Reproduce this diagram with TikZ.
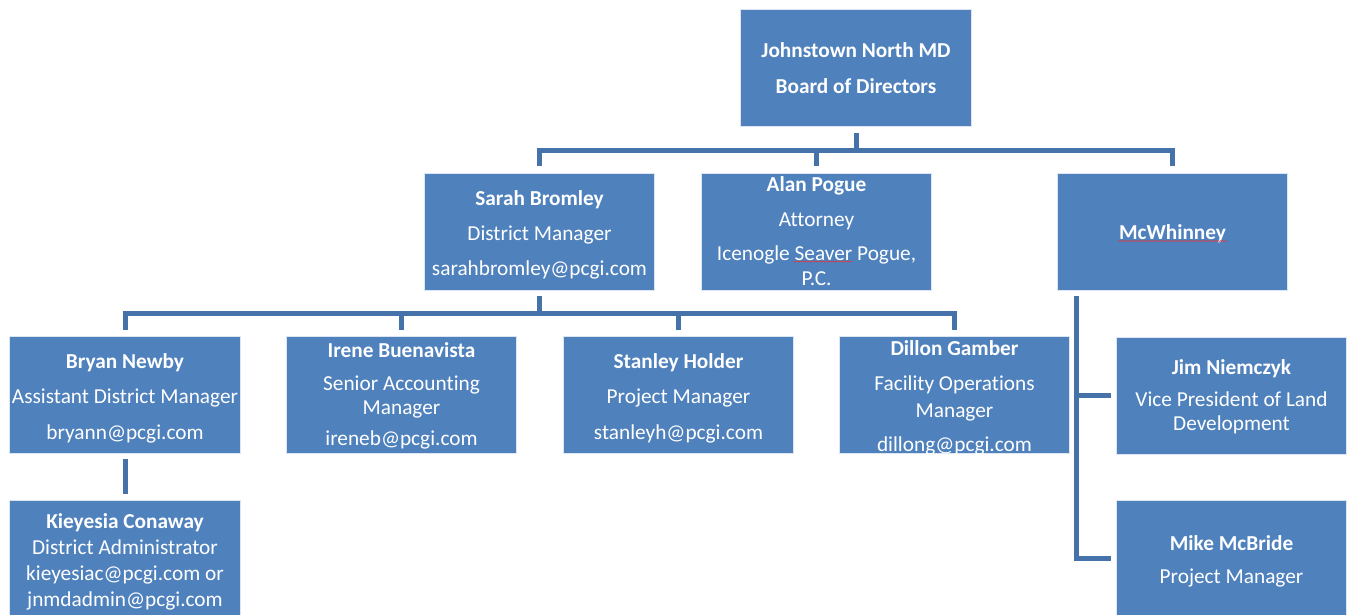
\documentclass[tikz,border=0pt]{standalone}
\usepackage{fontspec}
\setmainfont{Carlito}[Ligatures=NoCommon]
\usetikzlibrary{decorations.pathmorphing}
\definecolor{boxfill}{HTML}{4F81BD}
\definecolor{boxedge}{HTML}{DCE6F2}
\definecolor{conncol}{HTML}{4672AA}
\definecolor{spell}{HTML}{E0393E}
\newcommand\fsz{\fontsize{21.3}{26}\selectfont}
\begin{document}
\begin{tikzpicture}[x=1pt,y=-1pt,
  box/.style={draw=boxedge, line width=0.8pt, fill=boxfill, inner sep=0pt,
              minimum width=230.5pt, minimum height=117pt},
  conn/.style={draw=conncol, line width=5pt, line join=miter},
  txt/.style={text=white, font=\fsz, anchor=base, inner sep=0pt},
  nm/.style={text=white, font=\fsz\bfseries, anchor=base, inner sep=0pt},
  squiggle/.style={draw=spell, line width=0.6pt, decorate,
              decoration={snake, amplitude=0.45pt, segment length=3pt}}]
\useasboundingbox (0,0) rectangle (1351,614);
\fill[white] (0,0) rectangle (1351,614);

% boxes
\node[box] (board)   at (856,67.5)    {};
\node[box] (sarah)   at (539.5,231.5) {};
\node[box] (alan)    at (816.5,231.5) {};
\node[box] (mcw)     at (1172.5,231.5){};
\node[box] (bryan)   at (125,394.5)   {};
\node[box] (irene)   at (401.5,394.5) {};
\node[box] (stanley) at (678.5,394.5) {};
\node[box] (dillon)  at (954.5,394.5) {};
\node[box] (kiey)    at (125,558.5)   {};
\node[box] (jim)     at (1231.5,395.5){};
\node[box] (mike)    at (1231.5,558.5){};

% texts
\node[nm]  (board1) at (856,57) {Johnstown North MD};
\node[nm]  (board2) at (856,93) {Board of Directors};

\node[nm]  (sarah1) at (539.5,205) {Sarah Bromley};
\node[txt] (sarah2) at (539.5,240) {District Manager};
\node[txt] (sarah3) at (539.5,275) {sarahbromley@pcgi.com};

\node[nm]  (alan1) at (816.5,191) {Alan Pogue};
\node[txt] (alan2) at (816.5,226) {Attorney};
\node[txt] (alan3) at (816.5,260) {Icenogle Seaver Pogue,};
\node[txt] (alan4) at (816.5,285) {P.C.};

\node[nm]  (mcw1) at (1172.5,239) {McWhinney};

\node[nm]  (bryan1) at (125,368) {Bryan Newby};
\node[txt] (bryan2) at (125,403) {Assistant District Manager};
\node[txt] (bryan3) at (125,439) {bryann@pcgi.com};

\node[nm]  (irene1) at (401.5,357) {Irene Buenavista};
\node[txt] (irene2) at (401.5,390) {Senior Accounting};
\node[txt] (irene3) at (401.5,414) {Manager};
\node[txt] (irene4) at (401.5,445) {ireneb@pcgi.com};

\node[nm]  (stanley1) at (678.5,368) {Stanley Holder};
\node[txt] (stanley2) at (678.5,403) {Project Manager};
\node[txt] (stanley3) at (678.5,439) {stanleyh@pcgi.com};

\node[nm]  (dillon1) at (954.5,355) {Dillon Gamber};
\node[txt] (dillon2) at (954.5,390) {Facility Operations};
\node[txt] (dillon3) at (954.5,417) {Manager};
\node[txt] (dillon4) at (954.5,451) {dillong@pcgi.com};

\node[nm]  (kiey1) at (125,528) {Kieyesia Conaway};
\node[txt] (kiey2) at (125,554) {District Administrator};
\node[txt] (kiey3) at (125,580) {kieyesiac@pcgi.com or};
\node[txt] (kiey4) at (125,606) {jnmdadmin@pcgi.com};

\node[nm]  (jim1) at (1231.5,374) {Jim Niemczyk};
\node[txt] (jim2) at (1231.5,406) {Vice President of Land};
\node[txt] (jim3) at (1231.5,430) {Development};

\node[nm]  (mike1) at (1231.5,550) {Mike McBride};
\node[txt] (mike2) at (1231.5,583) {Project Manager};

% spell-check marks
\draw[squiggle] (1118,241) -- (1227,241);
\draw[squiggle] (793,261.5) -- (852,261.5);

% connectors
\coordinate (bus1) at (0,150);
\coordinate (bus2) at (0,313);
\draw[conn] ([yshift=-7pt]board.south) -- (board.south |- bus1);
\draw[conn] ([yshift=7pt]sarah.north) -- (sarah.north |- bus1)
            -- (mcw.north |- bus1) -- ([yshift=7pt]mcw.north);
\draw[conn] (alan.north |- bus1) -- ([yshift=7pt]alan.north);

\draw[conn] ([yshift=-6pt]sarah.south) -- (sarah.south |- bus2);
\draw[conn] ([yshift=6pt]bryan.north) -- (bryan.north |- bus2)
            -- (dillon.north |- bus2) -- ([yshift=6pt]dillon.north);
\draw[conn] (irene.north |- bus2) -- ([yshift=6pt]irene.north);
\draw[conn] (stanley.north |- bus2) -- ([yshift=6pt]stanley.north);

\draw[conn] ([yshift=-6pt]bryan.south) -- ([yshift=6pt]kiey.north);

\coordinate (mv) at ([xshift=20pt,yshift=-6pt]mcw.south west);
\draw[conn] (mv) -- (mv |- mike.west) -- ([xshift=-5pt]mike.west);
\draw[conn] (mv |- jim.west) -- ([xshift=-5pt]jim.west);
\end{tikzpicture}
\end{document}
